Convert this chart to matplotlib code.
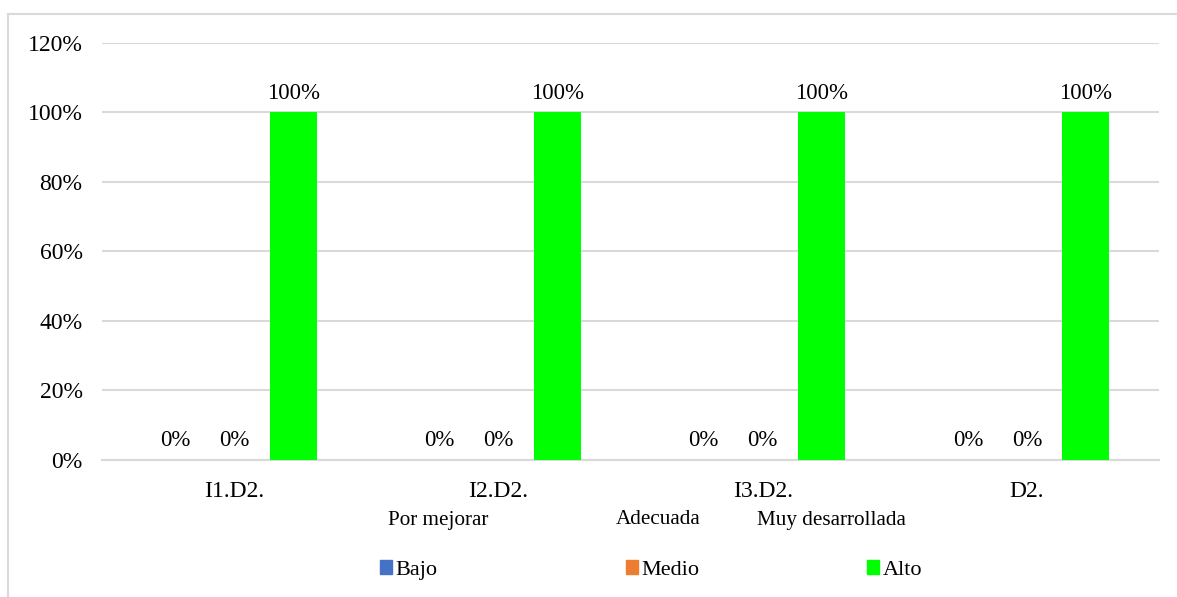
import numpy as np
import matplotlib.pyplot as plt
from matplotlib.lines import Line2D
from matplotlib.patches import Patch

plt.rcParams['font.family'] = ['Liberation Serif', 'DejaVu Serif']

categorias = ['I1.D2.', 'I2.D2.', 'I3.D2.', 'D2.']
series = ['Bajo', 'Medio', 'Alto']
bajo = [0, 0, 0, 0]
medio = [0, 0, 0, 0]
alto = [100, 100, 100, 100]
niveles = ['Por mejorar', 'Adecuada', 'Muy desarrollada']
colores = ['#4472C4', '#ED7D31', '#00FF00']

fig = plt.figure(figsize=(11.77, 5.97), dpi=100)
ax = fig.add_axes([0.0867, 0.2295, 0.898, 0.6985])

x = np.arange(len(categorias))
ancho = 0.178
paso = 0.223
for i, (nombre, vals) in enumerate(zip(series, [bajo, medio, alto])):
    pos = x + (i - 1) * paso
    ax.bar(pos, vals, ancho, color=colores[i], label=nombre, zorder=3)
    for xp, v in zip(pos, vals):
        ax.text(xp, v + 2.5, '{:.0f}%'.format(v), ha='center', va='bottom',
                fontsize=16.5, color='#000000', zorder=4)

ax.set_xlim(-0.5, len(categorias) - 0.5)
ax.set_ylim(0, 120)
ax.set_yticks(np.arange(0, 121, 20))
ax.set_yticklabels(['{}%'.format(t) for t in range(0, 121, 20)], fontsize=17)
ax.set_xticks(x)
ax.set_xticklabels(categorias, fontsize=17)
ax.tick_params(axis='x', length=0, pad=15)
ax.tick_params(axis='y', length=0, pad=14)
ax.grid(axis='y', color='#D9D9D9', linewidth=1.5, zorder=0)
for s in ['top', 'right', 'left']:
    ax.spines[s].set_visible(False)
ax.spines['bottom'].set_color('#D9D9D9')
ax.spines['bottom'].set_linewidth(1.5)

# etiquetas de nivel bajo el eje
for nx, txt in zip([438, 658, 831], niveles):
    fig.text(nx / 1177, 1 - 520 / 597, txt, ha='center', va='center', fontsize=15.2)

# leyenda con columnas de igual ancho
for xl, nombre, c in zip([380, 626, 867], series, colores):
    fig.legend(handles=[Patch(color=c, label=nombre)], loc='center left',
               bbox_to_anchor=(xl / 1177, 1 - 570 / 597), frameon=False,
               fontsize=16, handlelength=0.55, handleheight=0.55,
               handletextpad=0.15, borderpad=0, borderaxespad=0)

# borde exterior (solo izquierdo y superior visibles)
fig.add_artist(Line2D([7.5 / 1177, 7.5 / 1177], [0, 1 - 13.5 / 597],
                      transform=fig.transFigure, color='#D9D9D9', linewidth=1.5))
fig.add_artist(Line2D([7.5 / 1177, 1], [1 - 13.5 / 597, 1 - 13.5 / 597],
                      transform=fig.transFigure, color='#D9D9D9', linewidth=1.5))

fig.savefig('out.png', dpi=100)
